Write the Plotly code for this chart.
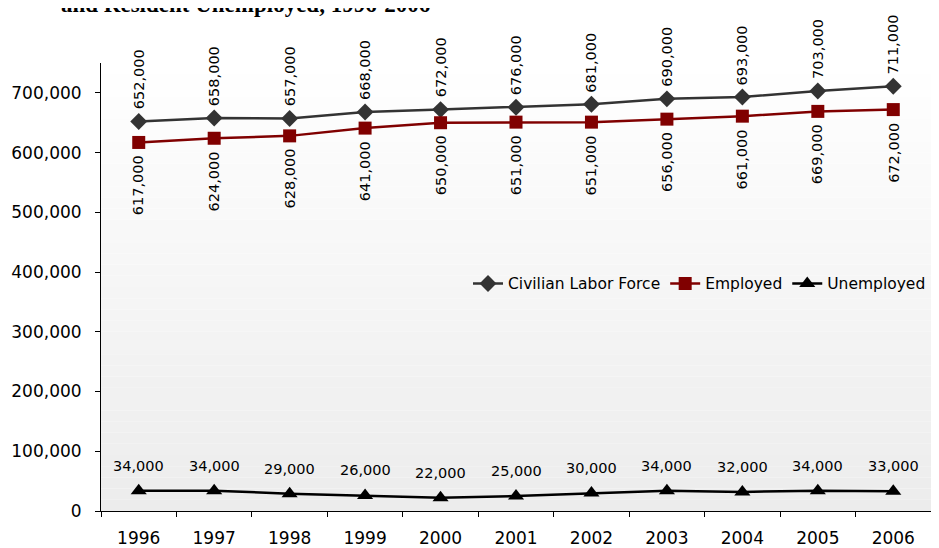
import plotly.graph_objects as go

years = ["1996", "1997", "1998", "1999", "2000", "2001", "2002", "2003", "2004", "2005", "2006"]
labor_force = [652000, 658000, 657000, 668000, 672000, 676000, 681000, 690000, 693000, 703000, 711000]
employed = [617000, 624000, 628000, 641000, 650000, 651000, 651000, 656000, 661000, 669000, 672000]
unemployed = [34000, 34000, 29000, 26000, 22000, 25000, 30000, 34000, 32000, 34000, 33000]
y_ticks = [0, 100000, 200000, 300000, 400000, 500000, 600000, 700000]
title_text = "and Resident Unemployed, 1996-2006"

FONT = "DejaVu Sans"
fig = go.Figure()

fig.add_trace(go.Scatter(
    x=years, y=labor_force, name="Civilian Labor Force", mode="lines+markers",
    line=dict(color="#333333", width=2.5),
    marker=dict(symbol="diamond", size=13, color="#333333"),
))
fig.add_trace(go.Scatter(
    x=years, y=employed, name="Employed", mode="lines+markers",
    line=dict(color="#800000", width=2.5),
    marker=dict(symbol="square", size=13, color="#800000"),
))
fig.add_trace(go.Scatter(
    x=years, y=unemployed, name="Unemployed", mode="lines+markers",
    line=dict(color="#000000", width=2.5),
    marker=dict(symbol="triangle-up", size=14, color="#000000"),
))

annotations = []
lab_font = dict(family=FONT, size=14.5, color="#000000")
for i, v in enumerate(labor_force):
    annotations.append(dict(x=i, y=v, xref="x", yref="y", text=f"{v:,}", showarrow=False,
                            textangle=-90, yanchor="bottom", xanchor="center", yshift=10, font=lab_font))
for i, v in enumerate(employed):
    annotations.append(dict(x=i, y=v, xref="x", yref="y", text=f"{v:,}", showarrow=False,
                            textangle=-90, yanchor="top", xanchor="center", yshift=-11, font=lab_font))
for i, v in enumerate(unemployed):
    annotations.append(dict(x=i, y=v, xref="x", yref="y", text=f"{v:,}", showarrow=False,
                            yanchor="middle", xanchor="center", yshift=25, font=lab_font))

ML, MR, MT, MB = 93, 16, 55, 45
annotations.append(dict(x=0.1735, y=1 + (MT - 11) / 448, xref="paper", yref="paper", text="<b>" + title_text + "</b>",
                        showarrow=False, xanchor="center", yanchor="bottom",
                        font=dict(family="Liberation Serif", size=23, color="#000000")))

# vertical gradient background (white at top to light gray at bottom)
shapes = []
n = 40
top = (255, 255, 255)
bot = (236, 236, 236)
for k in range(n):
    t = (k + 0.5) / n
    c = tuple(round(bot[j] + (top[j] - bot[j]) * t) for j in range(3))
    shapes.append(dict(type="rect", xref="paper", yref="paper", x0=0, x1=1,
                       y0=k / n, y1=(k + 1) / n, line=dict(width=0),
                       fillcolor=f"rgb{c}", layer="below"))

fig.update_layout(
    width=939, height=548,
    margin=dict(l=ML, r=MR, t=MT, b=MB),
    paper_bgcolor="white", plot_bgcolor="white",
    font=dict(family=FONT, size=17, color="#000000"),
    showlegend=True,
    legend=dict(orientation="h", x=1.0, xanchor="right", y=0.507, yanchor="middle",
                bgcolor="rgba(0,0,0,0)", font=dict(family=FONT, size=15.5),
                itemwidth=30, tracegroupgap=0),
    annotations=annotations,
    shapes=shapes,
)
fig.update_xaxes(type="category", range=[-0.5, len(years) - 0.5], showgrid=False, showline=True,
                 linecolor="#000000", linewidth=1, automargin=False,
                 ticks="outside", ticklen=5, tickcolor="#000000", tickson="boundaries",
                 ticklabelstandoff=12, tickfont=dict(family=FONT, size=17), zeroline=False)
fig.update_yaxes(range=[0, 750000], tickvals=y_ticks, tickformat=",", showgrid=False, showline=True,
                 linecolor="#000000", linewidth=1, ticks="outside", ticklen=5, tickcolor="#000000",
                 automargin=False,
                 ticklabelstandoff=10, tickfont=dict(family=FONT, size=17), zeroline=False)

fig.write_html("out.html")
